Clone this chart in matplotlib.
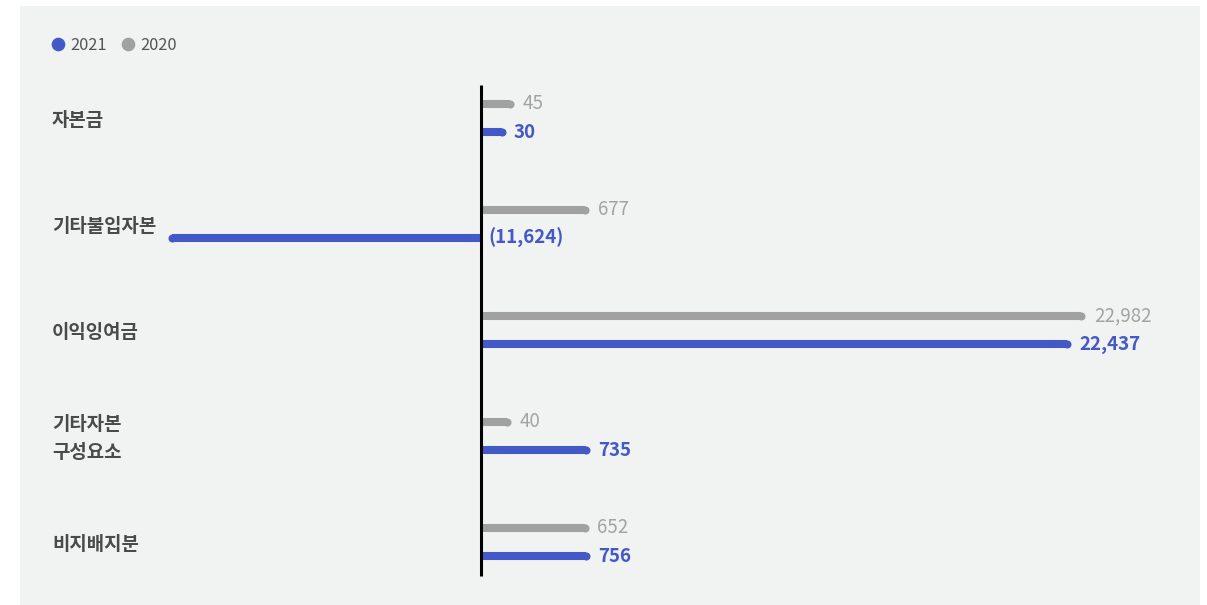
import numpy as np
import matplotlib
matplotlib.use("Agg")
import matplotlib.pyplot as plt
import matplotlib.transforms as mtransforms
from matplotlib.lines import Line2D
from matplotlib.patches import Rectangle

plt.rcParams["font.family"] = ["Noto Sans CJK KR", "DejaVu Sans"]

categories = ["자본금", "기타불입자본", "이익잉여금", "기타자본\n구성요소", "비지배지분"]
series_names = ["2021", "2020"]
values_2020 = [45, 677, 22982, 40, 652]
values_2021 = [30, -11624, 22437, 735, 756]

BLUE = "#4459C8"
GRAY = "#A0A1A0"
GRAY_TXT = "#A3A3A3"
DARK = "#4A4A4A"
PANEL = "#F1F2F2"


# small values get a visible minimum length, large ones stay linear
def fwd(x):
    x = np.asarray(x, dtype=float)
    a = np.abs(x)
    return np.sign(x) * (a + 3950 * (1 - np.exp(-a / 140)) * np.exp(-a / 4000))


_grid = np.linspace(-60000, 60000, 240001)
_fgrid = fwd(_grid)


def inv(y):
    return np.interp(y, _fgrid, _grid)


def fmt(v):
    return f"({abs(v):,})" if v < 0 else f"{v:,}"


W, H = 1207, 605
fig = plt.figure(figsize=(W / 100, H / 100), dpi=100)
fig.patch.set_facecolor("white")
fig.patches.append(Rectangle((20 / W, 0), 1180 / W, 599 / H, transform=fig.transFigure,
                             facecolor=PANEL, edgecolor="none", zorder=-5))

ax = fig.add_axes([0, 0, 1, 1])
ax.set_facecolor("none")
ax.set_xscale("function", functions=(fwd, inv))
k = 600 / 22982  # pixels per scaled unit
zero_px = 481
ax.set_xlim(inv(-zero_px / k), inv((W - zero_px) / k))
ax.set_ylim((H - 118) / 106, -118 / 106)
ax.axis("off")

y = np.arange(len(categories))
off = 0.134
lw = 5.8

for yi, v in zip(y - off, values_2020):
    ax.hlines(yi, 0, v, color=GRAY, lw=lw, capstyle="butt", zorder=2)
    ax.scatter([v], [yi], s=lw ** 2, color=GRAY, linewidths=0, zorder=2)
    ax.annotate(fmt(v), (v, yi), xytext=(9, 0), textcoords="offset points",
                ha="left", va="center", fontsize=13.5, color=GRAY_TXT)

for yi, v in zip(y + off, values_2021):
    ax.hlines(yi, 0, v, color=BLUE, lw=lw, capstyle="butt", zorder=2)
    ax.scatter([v], [yi], s=lw ** 2, color=BLUE, linewidths=0, zorder=2)
    anchor = max(v, 0)
    dx = 9 if v > 0 else 5
    ax.annotate(fmt(v), (anchor, yi), xytext=(dx, 0), textcoords="offset points",
                ha="left", va="center", fontsize=13.5, color=BLUE, fontweight="bold")

ax.vlines(0, -0.311, 4.32, color="black", lw=2.2, zorder=3)

label_trans = mtransforms.blended_transform_factory(fig.transFigure, ax.transData)
for yi, name in zip(y, categories):
    ax.text(52 / W, yi + 0.025, name, transform=label_trans,
            ha="left", va="center", fontsize=13.6, color=DARK, fontweight="bold",
            linespacing=1.62)

handles = [Line2D([], [], marker="o", ls="", color=BLUE, ms=8.8, label=series_names[0]),
           Line2D([], [], marker="o", ls="", color=GRAY, ms=8.8, label=series_names[1])]
leg = ax.legend(handles=handles, loc="center left", bbox_to_anchor=(51 / W, 1 - 45 / H),
                bbox_transform=fig.transFigure, ncol=2, frameon=False, fontsize=11.8,
                handlelength=0.8, handletextpad=0.35, columnspacing=0.9, borderpad=0,
                borderaxespad=0)
for t in leg.get_texts():
    t.set_color("#555555")

fig.savefig("out.png", dpi=100, facecolor="white")
